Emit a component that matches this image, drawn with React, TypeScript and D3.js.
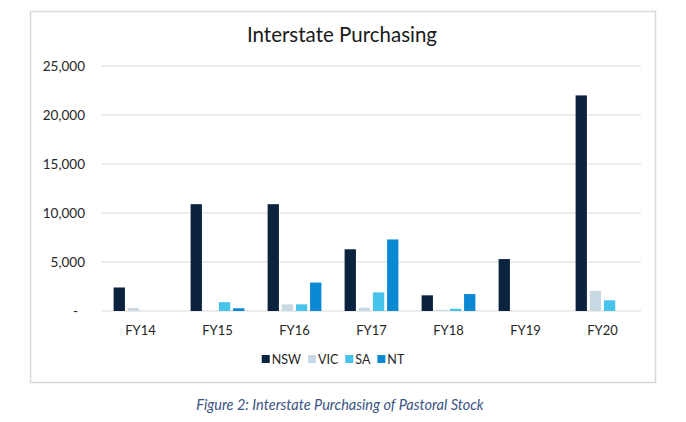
import React from "react";
import * as d3 from "d3";

const categories = ["FY14", "FY15", "FY16", "FY17", "FY18", "FY19", "FY20"];
const seriesNames = ["NSW", "VIC", "SA", "NT"];
const nsw = [2400, 10900, 10900, 6300, 1600, 5300, 22000];
const vic = [300, 0, 680, 340, 130, 0, 2050];
const sa = [0, 900, 680, 1900, 230, 0, 1090];
const nt = [0, 280, 2900, 7300, 1730, 0, 0];
const yTicks = [0, 5000, 10000, 15000, 20000, 25000];
const colors = ["#0c2340", "#c9d9e4", "#47c4ec", "#0a88d2"];

const seriesValues = [nsw, vic, sa, nt];

const W = 686;
const H = 422;
const FONT = "Lato, 'Open Sans', sans-serif";

function measure(text: string, font: string): number {
  const c = document.createElement("canvas").getContext("2d");
  if (!c) return text.length * 7;
  c.font = font;
  return c.measureText(text).width;
}

export default function App() {
  const x0 = d3.scaleBand<string>().domain(categories).range([102, 641]).paddingInner(0).paddingOuter(0);
  const x1 = d3
    .scaleBand<string>()
    .domain(seriesNames)
    .range([0, x0.bandwidth()])
    .paddingInner(0.2)
    .paddingOuter(0.82);
  const y = d3.scaleLinear().domain([0, 25000]).range([311, 66]);
  const fmt = (v: number) => (v === 0 ? "-" : d3.format(",")(v));

  const legendFont = `12.5px ${FONT}`;
  const sq = 8;
  const items = seriesNames.map((n) => ({ n, w: sq + 2 + measure(n, legendFont) }));
  const gap = 7;
  const totalW = d3.sum(items, (d) => d.w) + gap * (items.length - 1);
  let lx = 333 - totalW / 2;
  const legendPos = items.map((it) => {
    const p = lx;
    lx += it.w + gap;
    return p;
  });

  return (
    <svg width={W} height={H} style={{ position: "absolute", left: 0, top: 0, background: "#fff" }}>
      <rect x={0} y={0} width={W} height={H} fill="#fff" />
      <rect x={30.5} y={11.5} width={625} height={371} fill="#fff" stroke="#d9d9d9" strokeWidth={1.5} />
      <text x={342} y={42} textAnchor="middle" fontFamily={FONT} fontSize={20.5} fill="#1a1a1a">
        Interstate Purchasing
      </text>
      {yTicks.map((t) => (
        <g key={t}>
          <line x1={102} x2={641} y1={y(t)} y2={y(t)} stroke="#d9d9d9" strokeWidth={1.2} />
          <text
            x={t === 0 ? 78 : 85}
            y={y(t)}
            dy="0.35em"
            textAnchor="end"
            fontFamily={FONT}
            fontSize={13.5}
            fill="#262626"
          >
            {fmt(t)}
          </text>
        </g>
      ))}
      {categories.map((c, i) => (
        <g key={c} transform={`translate(${x0(c)},0)`}>
          {seriesNames.map((s, j) => {
            const v = seriesValues[j][i];
            if (!v) return null;
            return (
              <rect
                key={s}
                x={x1(s)}
                y={y(v)}
                width={x1.bandwidth()}
                height={y(0) - y(v)}
                fill={colors[j]}
              />
            );
          })}
          <text
            x={x0.bandwidth() / 2}
            y={335}
            textAnchor="middle"
            fontFamily={FONT}
            fontSize={13}
            fill="#262626"
          >
            {c}
          </text>
        </g>
      ))}
      {items.map((it, i) => (
        <g key={it.n} transform={`translate(${legendPos[i]},0)`}>
          <rect x={0} y={355} width={sq} height={sq} fill={colors[i]} />
          <text x={sq + 2} y={364} fontFamily={FONT} fontSize={12.5} fill="#262626">
            {it.n}
          </text>
        </g>
      ))}
      <text
        x={340}
        y={410}
        textAnchor="middle"
        fontFamily={FONT}
        fontStyle="italic"
        fontSize={14.5}
        fill="#3b5484"
      >
        Figure 2: Interstate Purchasing of Pastoral Stock
      </text>
    </svg>
  );
}
